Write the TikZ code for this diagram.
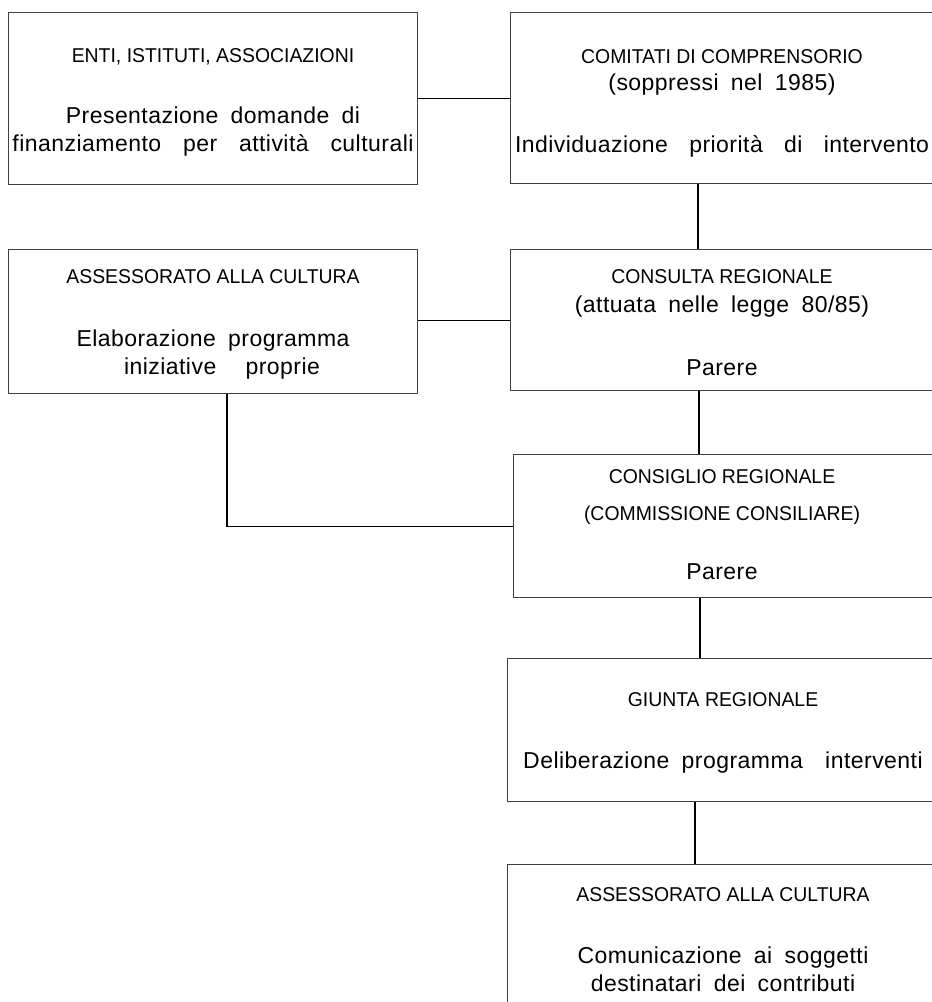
\documentclass[tikz,border=0pt]{standalone}
\usepackage{fontspec}
\setmainfont{Liberation Sans}
\newfontfamily\headfont[FakeStretch=0.97]{Liberation Sans}
\newfontfamily\bodyfont[LetterSpace=2,WordSpace=1.8]{Liberation Sans}
\usetikzlibrary{positioning}

\begin{document}
\begin{tikzpicture}[x=1pt, y=-1pt, line width=1.2pt,
    font=\bodyfont\fontsize{23}{28}\selectfont,
    box/.style={draw=black!75, anchor=north west, inner sep=0pt},
    head/.style={font=\headfont\fontsize{20}{24}\selectfont},
    body/.style={align=center}]
\useasboundingbox (0,0) rectangle (932,1002);
\clip (0,0) rectangle (932,1002);
%
% boxes
\node[box, minimum width=409, minimum height=172] (enti) at (8,12) {};
\node[box, minimum width=426, minimum height=171] (comitati) at (510,12) {};
\node[box, minimum width=409, minimum height=144] (assess) at (8,249) {};
\node[box, minimum width=426, minimum height=141] (consulta) at (510,249) {};
\node[box, minimum width=423, minimum height=143] (consiglio) at (513,454) {};
\node[box, minimum width=429, minimum height=143] (giunta) at (507,658) {};
\node[box, minimum width=429, minimum height=160] (comunica) at (507,864) {};
%
% texts
\node[head] (enti h) at (213,57) {ENTI, ISTITUTI, ASSOCIAZIONI};
\node[body] (enti b) at (213,132) {Presentazione domande di\\\makebox[401pt][s]{finanziamento per attività culturali}};
\node[head] (comitati h) at (722,57) {COMITATI DI COMPRENSORIO};
\node (comitati s) at (722,85) {(soppressi nel 1985)};
\node (comitati b) at (722,146) {\makebox[414pt][s]{Individuazione priorità di intervento}};
\node[head] (assess h) at (213,277) {ASSESSORATO ALLA CULTURA};
\node[body] (assess b) at (213,355) {Elaborazione programma\\\hspace*{18pt}\makebox[196pt][s]{iniziative proprie}};
\node[head] (consulta h) at (722,277) {CONSULTA REGIONALE};
\node (consulta s) at (722,307) {(attuata nelle legge 80/85)};
\node (consulta b) at (722,368) {Parere};
\node[head] (consiglio h) at (722,477) {CONSIGLIO REGIONALE};
\node[head] (consiglio s) at (722,515) {(COMMISSIONE CONSILIARE)};
\node (consiglio b) at (722,572) {Parere};
\node[head] (giunta h) at (723,700) {GIUNTA REGIONALE};
\node (giunta b) at (723,763) {Deliberazione programma\hspace{10pt} interventi};
\node[head] (comunica h) at (723,895) {ASSESSORATO ALLA CULTURA};
\node[body] (comunica b) at (723,969) {Comunicazione ai soggetti\\destinatari dei contributi};
%
% connectors
\coordinate (v1) at (698,0);
\coordinate (v2) at (699,0);
\coordinate (v3) at (700,0);
\coordinate (v4) at (695,0);
\coordinate (v5) at (227,0);
\draw (enti.east) -- (enti.east -| comitati.west);
\draw (consulta.west) -- (consulta.west -| assess.east);
\draw (comitati.south -| v1) -- (consulta.north -| v1);
\draw (consulta.south -| v2) -- (consiglio.north -| v2);
\draw (consiglio.south -| v3) -- (giunta.north -| v3);
\draw (giunta.south -| v4) -- (comunica.north -| v4);
\draw (assess.south -| v5) |- (consiglio.west);
\end{tikzpicture}
\end{document}
